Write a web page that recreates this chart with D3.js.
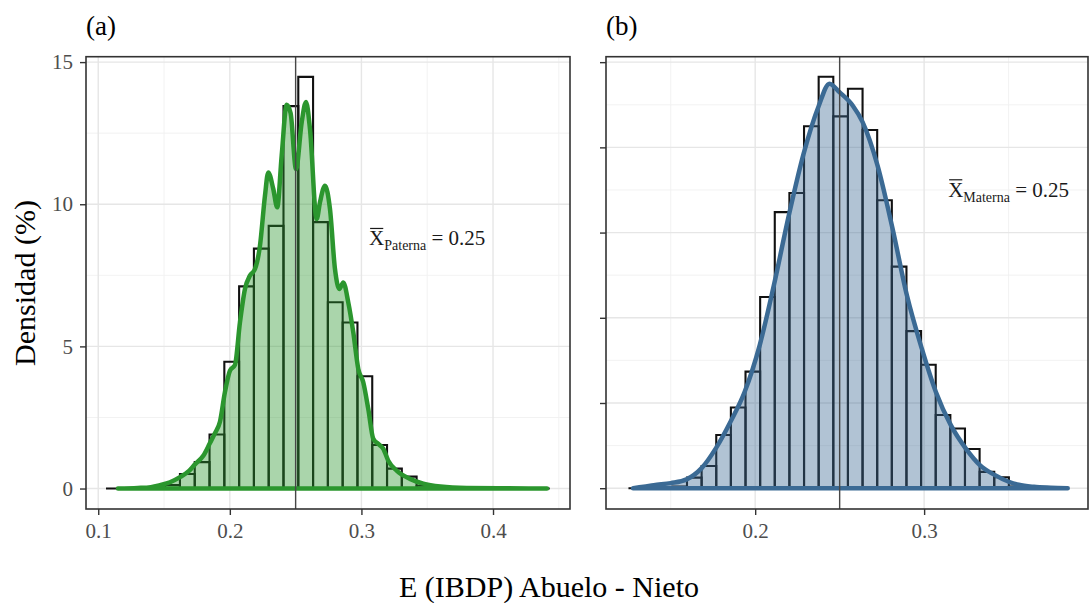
<!DOCTYPE html>
<html>
<head>
<meta charset="utf-8">
<script src="https://cdn.jsdelivr.net/npm/d3@7"></script>
<style>
  body { margin: 0; background: #fff; }
  svg { display: block; }
  text { font-family: "Liberation Serif", "DejaVu Serif", serif; }
</style>
</head>
<body>
<svg id="chart" width="1092" height="603"></svg>
<script>
// ---- Data: histogram densities (30 bins) and smoothed density curves ----
const binStartPaterna = 0.1059;
const binWidthPaterna = 0.01124;
const densPaterna = [0, 0, 0, 0.03, 0.12, 0.51, 0.93, 1.9, 4.46, 7.11,
                     8.44, 9.24, 13.45, 14.48, 9.37, 6.55, 5.84, 3.95, 1.53, 0.7,
                     0.42, 0.1, 0.03, 0, 0, 0, 0, 0, 0, 0];

const binStartMaterna = 0.1250;
const binWidthMaterna = 0.00866;
const densMaterna = [0, 0, 0.01, 0.05, 0.31, 0.65, 1.56, 2.37, 3.42, 5.61,
                     8.1, 8.66, 10.62, 12.07, 10.91, 11.72, 10.51, 8.45, 6.5, 4.61,
                     3.62, 2.15, 1.75, 1.15, 0.48, 0.32, 0.05, 0.01, 0, 0];

// kernel density estimate, [x, density]
const curvePaterna = [
  [0.1150, 0.00], [0.1300, 0.02], [0.1400, 0.05], [0.1470, 0.12], [0.1545, 0.22],
  [0.1621, 0.40], [0.1690, 0.62], [0.1735, 0.85], [0.1798, 1.15], [0.1849, 1.60],
  [0.1887, 1.95], [0.1925, 2.35], [0.1963, 3.40], [0.2001, 4.15], [0.2039, 4.35],
  [0.2077, 5.85], [0.2115, 7.02], [0.2153, 7.49], [0.2191, 7.72], [0.2229, 8.54],
  [0.2267, 10.30], [0.2292, 11.12], [0.2330, 10.54], [0.2360, 9.89], [0.2394, 11.71],
  [0.2432, 13.50], [0.2462, 13.20], [0.2503, 11.24], [0.2546, 12.88], [0.2579, 13.60],
  [0.2609, 12.65], [0.2660, 9.48], [0.2685, 10.07], [0.2723, 10.65], [0.2761, 9.83],
  [0.2799, 7.72], [0.2832, 7.02], [0.2862, 7.25], [0.2900, 6.55], [0.2938, 5.50],
  [0.2976, 4.21], [0.3014, 3.74], [0.3052, 2.80], [0.3090, 1.75], [0.3128, 1.57],
  [0.3166, 1.40], [0.3204, 0.98], [0.3268, 0.63], [0.3369, 0.34], [0.3470, 0.17],
  [0.3600, 0.07], [0.3800, 0.02], [0.4100, 0.01], [0.4410, 0.00]
];
const curveMaterna = [
  [0.1277, 0.00], [0.1340, 0.04], [0.1400, 0.09], [0.1500, 0.15], [0.1594, 0.26],
  [0.1683, 0.59], [0.1767, 1.17], [0.1854, 1.95], [0.1938, 2.83], [0.2027, 4.20],
  [0.2111, 5.96], [0.2199, 8.00], [0.2286, 9.80], [0.2375, 11.20], [0.2440, 11.87],
  [0.2499, 11.62], [0.2577, 11.23], [0.2636, 10.74], [0.2724, 9.47], [0.2813, 7.62],
  [0.2898, 5.66], [0.2986, 4.10], [0.3069, 2.83], [0.3158, 1.85], [0.3246, 1.17],
  [0.3330, 0.68], [0.3417, 0.39], [0.3501, 0.19], [0.3560, 0.10], [0.3650, 0.04],
  [0.3750, 0.015], [0.3850, 0.00]
];

const meanLine = 0.25;
const panelTitles = ["(a)", "(b)"];
const subLabels = ["Paterna", "Materna"];
const meanText = " = 0.25";
const xTicksPaterna = [0.1, 0.2, 0.3, 0.4];
const xTicksMaterna = [0.2, 0.3];
const yTicksPaterna = [0, 5, 10, 15];
const yTicksMaterna = [0, 2.5, 5, 7.5, 10, 12.5];
const xTitle = "E (IBDP) Abuelo - Nieto";
const yTitle = "Densidad (%)";

// ---- Layout ----
const svg = d3.select("#chart");
const panelTop = 56.7, panelBottom = 509;

const panels = [
  {
    left: 86, right: 570,
    xDomain: [0.0907, 0.4585], yDomain: [-0.72, 15.19],
    start: binStartPaterna, width: binWidthPaterna, dens: densPaterna, curve: curvePaterna,
    xTicks: xTicksPaterna, yTicks: yTicksPaterna, showY: true,
    line: "#2b962e", fill: "#2b962e",
    title: panelTitles[0], sub: subLabels[0]
  },
  {
    left: 606, right: 1088,
    xDomain: [0.1117, 0.397], yDomain: [-0.61, 12.66],
    start: binStartMaterna, width: binWidthMaterna, dens: densMaterna, curve: curveMaterna,
    xTicks: xTicksMaterna, yTicks: yTicksMaterna, showY: false,
    line: "#3b6a94", fill: "#3b6a94",
    title: panelTitles[1], sub: subLabels[1]
  }
];

// label position shared by both panels (data units)
const labelX = 0.35, labelY = 8.55;

panels.forEach(p => {
  const x = d3.scaleLinear().domain(p.xDomain).range([p.left, p.right]);
  const y = d3.scaleLinear().domain(p.yDomain).range([panelBottom, panelTop]);
  const g = svg.append("g");

  g.append("rect").attr("x", p.left).attr("y", panelTop)
    .attr("width", p.right - p.left).attr("height", panelBottom - panelTop)
    .attr("fill", "#fff");

  // grid: minor then major
  const xMajor = p.xTicks;
  const xMinor = d3.range(0.05, 0.5, 0.1).map(v => +v.toFixed(2))
    .filter(v => v > p.xDomain[0] && v < p.xDomain[1]);
  const yStep = p.yTicks[1] - p.yTicks[0];
  const yMinor = p.yTicks.map(v => v + yStep / 2).filter(v => v < p.yDomain[1]);

  g.selectAll(null).data(xMinor).join("line")
    .attr("x1", d => x(d)).attr("x2", d => x(d)).attr("y1", panelTop).attr("y2", panelBottom)
    .attr("stroke", "#f0f0f0").attr("stroke-width", 0.9);
  g.selectAll(null).data(yMinor).join("line")
    .attr("y1", d => y(d)).attr("y2", d => y(d)).attr("x1", p.left).attr("x2", p.right)
    .attr("stroke", "#f0f0f0").attr("stroke-width", 0.9);
  g.selectAll(null).data(xMajor).join("line")
    .attr("x1", d => x(d)).attr("x2", d => x(d)).attr("y1", panelTop).attr("y2", panelBottom)
    .attr("stroke", "#e6e6e6").attr("stroke-width", 1.4);
  g.selectAll(null).data(p.yTicks).join("line")
    .attr("y1", d => y(d)).attr("y2", d => y(d)).attr("x1", p.left).attr("x2", p.right)
    .attr("stroke", "#e6e6e6").attr("stroke-width", 1.4);

  // histogram outlines (paths so empty bins still draw a baseline)
  const bins = p.dens.map((d, i) => ({ x0: p.start + i * p.width, x1: p.start + (i + 1) * p.width, d }));
  g.selectAll(null).data(bins).join("path")
    .attr("d", b => `M${x(b.x0)},${y(0)}V${y(b.d)}H${x(b.x1)}V${y(0)}Z`)
    .attr("fill", "none").attr("stroke", "#111").attr("stroke-width", 2.1);

  // density: filled area plus full outline
  const area = d3.area().x(d => x(d[0])).y0(y(0)).y1(d => y(d[1])).curve(d3.curveMonotoneX);
  g.append("path").attr("d", area(p.curve))
    .attr("fill", p.fill).attr("fill-opacity", 0.4)
    .attr("stroke", p.line).attr("stroke-width", 4.5).attr("stroke-linejoin", "round");

  // reference line at the expected value
  g.append("line").attr("x1", x(meanLine)).attr("x2", x(meanLine))
    .attr("y1", panelTop).attr("y2", panelBottom)
    .attr("stroke", "#474747").attr("stroke-width", 1.4);

  // panel border
  g.append("rect").attr("x", p.left).attr("y", panelTop)
    .attr("width", p.right - p.left).attr("height", panelBottom - panelTop)
    .attr("fill", "none").attr("stroke", "#333").attr("stroke-width", 1.6);

  // axes
  const xAxis = d3.axisBottom(x).tickValues(p.xTicks).tickSize(6).tickPadding(8)
    .tickFormat(d3.format(".1f"));
  const gx = g.append("g").attr("transform", `translate(0,${panelBottom})`).call(xAxis);
  const yAxis = d3.axisLeft(y).tickValues(p.yTicks).tickSize(6).tickPadding(7)
    .tickFormat(p.showY ? d3.format("d") : () => "");
  const gy = g.append("g").attr("transform", `translate(${p.left},0)`).call(yAxis);
  [gx, gy].forEach(a => {
    a.select(".domain").remove();
    a.selectAll(".tick line").attr("stroke", "#333").attr("stroke-width", 1.4);
    a.selectAll(".tick text").attr("fill", "#4d4d4d")
      .style("font-family", '"Liberation Serif", serif').style("font-size", "21px");
  });

  // facet title
  svg.append("text").attr("x", p.left).attr("y", 35)
    .style("font-size", "27px").attr("fill", "#000").text(p.title);

  // mean label: X̄ with subscript
  const t = svg.append("text").attr("x", x(labelX)).attr("y", y(labelY))
    .attr("text-anchor", "middle").attr("fill", "#1a1a1a").style("font-size", "21px");
  t.append("tspan").text("X");
  t.append("tspan").attr("dy", 5).style("font-size", "14px").text(p.sub);
  t.append("tspan").attr("dy", -5).text(meanText);
  const ext = t.node().getExtentOfChar(0);
  svg.append("line")
    .attr("x1", ext.x + 1).attr("x2", ext.x + ext.width - 1)
    .attr("y1", y(labelY) - 17).attr("y2", y(labelY) - 17)
    .attr("stroke", "#1a1a1a").attr("stroke-width", 1.2);
});

// axis titles
svg.append("text").attr("x", 549).attr("y", 597).attr("text-anchor", "middle")
  .style("font-size", "30px").attr("fill", "#000").text(xTitle);
svg.append("text").attr("transform", "translate(35,283) rotate(-90)")
  .attr("text-anchor", "middle").style("font-size", "30px").attr("fill", "#000").text(yTitle);
</script>
</body>
</html>
